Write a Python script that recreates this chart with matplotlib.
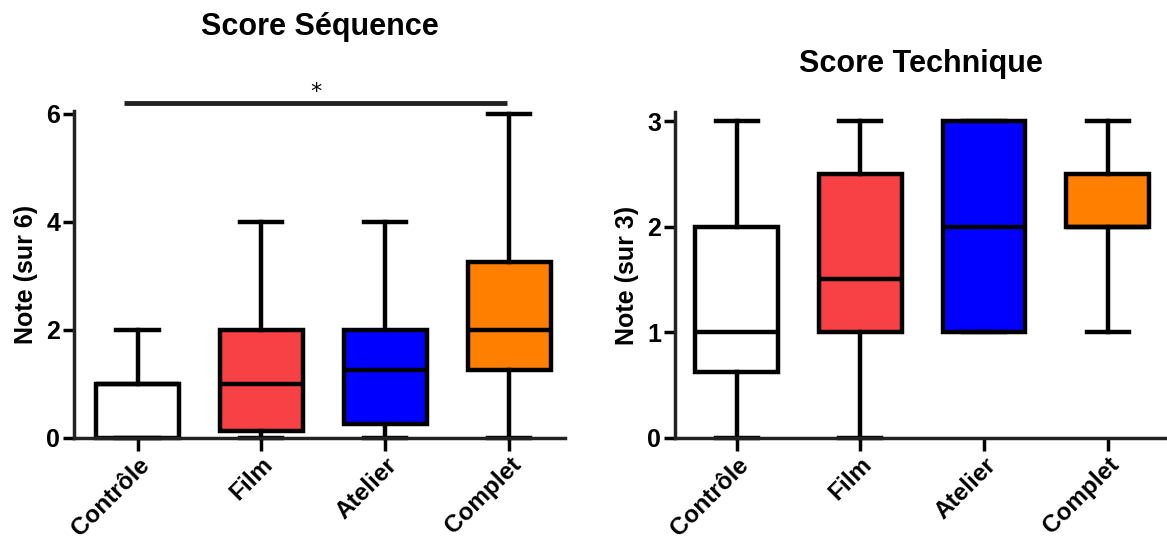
import matplotlib
matplotlib.use("Agg")
import matplotlib.pyplot as plt

plt.rcParams['font.family'] = ['Liberation Sans', 'DejaVu Sans']
plt.rcParams['font.weight'] = 'bold'

groupes = ["Contrôle", "Film", "Atelier", "Complet"]
couleurs = ["#FFFFFF", "#F74144", "#0000FF", "#FF8000"]

# Score Séquence (sur 6)
seq_min = [0, 0, 0, 0]
seq_q1 = [0, 0.125, 0.25, 1.25]
seq_med = [1, 1, 1.25, 2]
seq_q3 = [1, 2, 2, 3.25]
seq_max = [2, 4, 4, 6]

# Score Technique (sur 3)
tech_min = [0, 0, 1, 1]
tech_q1 = [0.625, 1, 1, 2]
tech_med = [1, 1.5, 2, 2]
tech_q3 = [2, 2.5, 3, 2.5]
tech_max = [3, 3, 3, 3]


def stats(mins, q1s, meds, q3s, maxs):
    out = []
    for g, a, b, c, d, e in zip(groupes, mins, q1s, meds, q3s, maxs):
        out.append(dict(label=g, whislo=a, q1=b, med=c, q3=d, whishi=e, fliers=[]))
    return out


def dessine(ax, st, ymax, ticks, ylabel, titre, title_pad):
    lw = 3.2
    bp = ax.bxp(st, positions=range(1, 5), widths=0.67, capwidths=0.34,
                patch_artist=True, showfliers=False,
                boxprops=dict(linewidth=lw, edgecolor='black'),
                whiskerprops=dict(linewidth=lw, color='black'),
                capprops=dict(linewidth=lw, color='black'),
                medianprops=dict(linewidth=lw, color='black'))
    for p, c in zip(bp['boxes'], couleurs):
        p.set_facecolor(c)
        p.set_joinstyle('miter')
        p.set_clip_on(False)
    for k in ('whiskers', 'caps', 'medians'):
        for l in bp[k]:
            l.set_clip_on(False)
    ax.set_ylim(0, ymax)
    ax.set_yticks(ticks)
    ax.set_xticks(range(1, 5))
    ax.set_xticklabels(groupes, rotation=45, ha='right', rotation_mode='anchor',
                       fontsize=17.5, fontweight='bold')
    ax.tick_params(axis='y', labelsize=18, length=8, width=2.5, pad=2)
    ax.tick_params(axis='x', length=9, width=2.5, pad=2)
    for lab in ax.get_yticklabels():
        lab.set_fontweight('bold')
    ax.spines['top'].set_visible(False)
    ax.spines['right'].set_visible(False)
    for s in ('left', 'bottom'):
        ax.spines[s].set_linewidth(2.5)
        ax.spines[s].set_color('#222222')
    ax.set_ylabel(ylabel, fontsize=18, fontweight='bold', labelpad=6)
    ax.set_title(titre, fontsize=22, fontweight='bold', pad=title_pad)


fig = plt.figure(figsize=(11.67, 5.44), dpi=100)
ax1 = fig.add_axes([0.0634, 0.195, 0.4207, 0.601])
ax2 = fig.add_axes([0.5784, 0.195, 0.4216, 0.599])

dessine(ax1, stats(seq_min, seq_q1, seq_med, seq_q3, seq_max), 6.05, [0, 2, 4, 6],
        "Note (sur 6)", "Score Séquence", 55)
ax1.set_xlim(0.487, 4.45)

dessine(ax2, stats(tech_min, tech_q1, tech_med, tech_q3, tech_max), 3.085, [0, 1, 2, 3],
        "Note (sur 3)", "Score Technique", 29)
ax2.set_xlim(0.5, 4.48)

# barre de significativité Contrôle vs Complet
ax1.plot([0.894, 3.98], [6.2, 6.2], color='#222222', linewidth=3.5, clip_on=False,
         solid_capstyle='butt')
ax1.text(2.44, 6.22, "*", ha='center', va='bottom', fontsize=16, fontweight='normal',
         family='DejaVu Sans')

fig.savefig("out.png", dpi=100)
